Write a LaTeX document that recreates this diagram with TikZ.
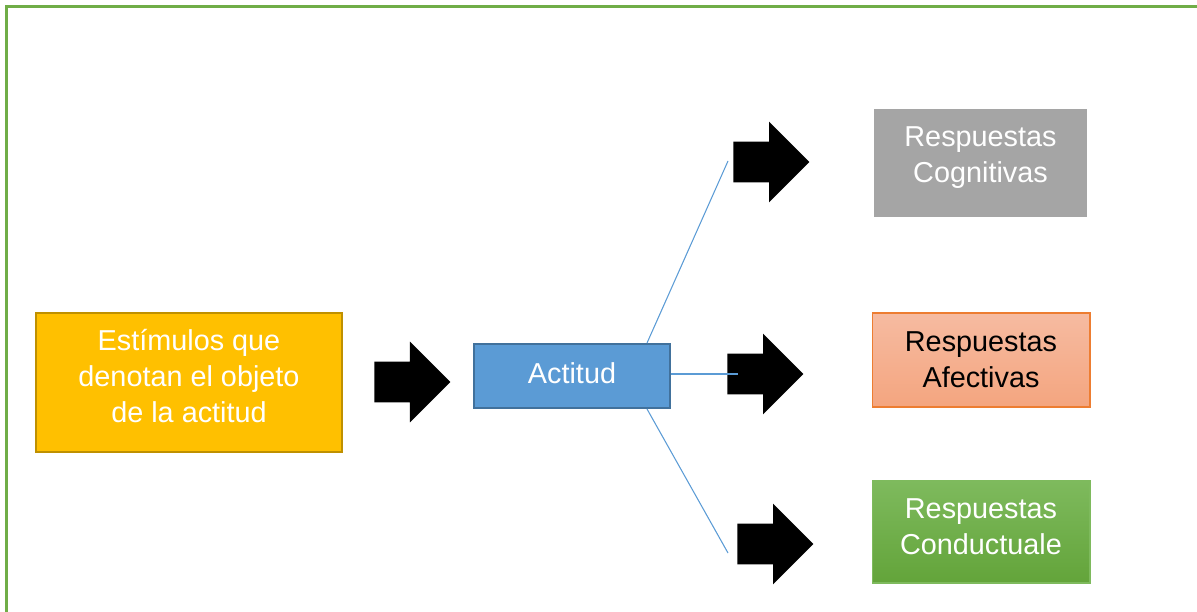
\documentclass[tikz,border=0pt]{standalone}
\usepackage{fontspec}
\setmainfont{Liberation Sans}
\usetikzlibrary{shapes.arrows}
\definecolor{marco}{HTML}{70AD47}
\definecolor{amarillo}{HTML}{FFC000}
\definecolor{amarilloborde}{HTML}{BF9000}
\definecolor{azul}{HTML}{5B9BD5}
\definecolor{azulborde}{HTML}{41719C}
\definecolor{gris}{HTML}{A5A5A5}
\definecolor{naranjaA}{HTML}{F6BBA1}
\definecolor{naranjaB}{HTML}{F4A57F}
\definecolor{naranjaborde}{HTML}{ED7D31}
\definecolor{verdeA}{HTML}{7EBA5D}
\definecolor{verdeB}{HTML}{63A43A}
\begin{document}
\begin{tikzpicture}[x=0.02cm,y=-0.02cm,
  every node/.style={font=\fontsize{16.4}{20.4}\selectfont,align=center,inner sep=0pt},
  caja/.style={rectangle,text=white},
  flecha/.style={single arrow,fill=black,draw=none,anchor=tail,minimum height=1.52cm,inner xsep=0pt,inner ysep=0.4cm,single arrow head extend=0.4cm},
  linea/.style={draw=azul,line width=0.6pt}]
\useasboundingbox (0,0) rectangle (1197,612);
% marco
\draw[marco,line width=1.2pt] (6.5,612) -- (6.5,6.5) -- (1197,6.5);
\begin{scope}
\node[caja,fill=amarillo,draw=amarilloborde,line width=1.1pt,minimum width=6.12cm,minimum height=2.78cm] (est) at (189,382.5) {\raisebox{2pt}[\height][\depth]{\begin{tabular}{@{}c@{}}Estímulos que\\denotan el objeto\\de la actitud\end{tabular}}};
\node[caja,fill=azul,draw=azulborde,line width=1.1pt,minimum width=3.92cm,minimum height=1.28cm] (act) at (572,376) {\raisebox{1.5pt}[\height][\depth]{Actitud}};
\node[caja,fill=gris,minimum width=4.26cm,minimum height=2.16cm] (cog) at (980.5,163) {\raisebox{3.3pt}[\height][\depth]{\begin{tabular}{@{}c@{}}Respuestas\\Cognitivas\end{tabular}}};
\node[rectangle,top color=naranjaA,bottom color=naranjaB,draw=naranjaborde,line width=0.6pt,minimum width=4.36cm,minimum height=1.88cm] (afe) at (981,360) {Respuestas\\Afectivas};
\node[caja,top color=verdeA,bottom color=verdeB,draw=verdeA,line width=0.6pt,minimum width=4.36cm,minimum height=2.04cm] (con) at (981,532) {\raisebox{1.5pt}[\height][\depth]{\begin{tabular}{@{}c@{}}Respuestas\\Conductuale\end{tabular}}};
\end{scope}
\begin{scope}
\node[flecha] (f1) at (374,382) {};
\node[flecha] (f2) at (733,162) {};
\node[flecha] (f3) at (727,374) {};
\node[flecha] (f4) at (737,544) {};
\end{scope}
\coordinate (c2) at (728,161);
\coordinate (c3) at (738,374);
\coordinate (c4) at (728,553);
\begin{scope}
\draw[linea] (act.north -| 647,0) -- (c2);
\draw[linea] (act.east |- c3) -- (c3);
\draw[linea] (act.south -| 647,0) -- (c4);
\end{scope}
\end{tikzpicture}
\end{document}
